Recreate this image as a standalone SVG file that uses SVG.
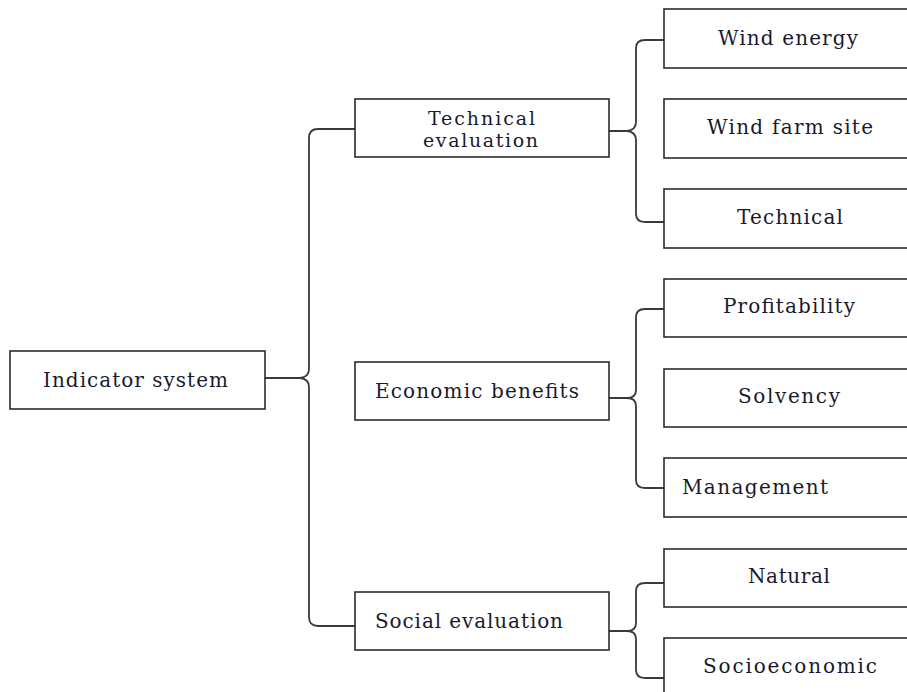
<svg xmlns="http://www.w3.org/2000/svg" width="907" height="692" viewBox="0 0 907 692">
<style>
rect{fill:#fff;stroke:#2b2b2b;stroke-width:1.6}
text{font-family:"DejaVu Serif",serif;font-size:20px;fill:#1a1a2e}
text.sm{font-size:19px}
.c path{fill:none;stroke:#3a3a3a;stroke-width:1.8}
</style>
<rect x="0" y="0" width="907" height="692" style="fill:#fff;stroke:none"/>
<g class="c" id="connectors">
<path d="M355 129 H318 Q309 129 309 138 V369 Q309 377 300 378 H265 M265 378 H300 Q309 379 309 387 V617 Q309 626 318 626 H355"/>
<path d="M664 40 H645 Q636 40 636 48 V122 Q636 130 627 131 H609 M609 131 H627 Q636 132 636 140 V214 Q636 222 645 222 H664"/>
<path d="M664 309 H645 Q636 309 636 317 V390 Q636 398 627 398 H609 M609 398 H627 Q636 398 636 406 V480 Q636 488 645 488 H664"/>
<path d="M664 583 H645 Q636 583 636 591 V623 Q636 631 627 631 H609 M609 631 H627 Q636 631 636 639 V670 Q636 678 645 678 H664"/>
</g>
<g id="n-indicator"><rect x="10" y="351" width="255" height="58"/><text x="43" y="387" textLength="185" lengthAdjust="spacing">Indicator system</text></g>
<g id="n-technical-eval"><rect x="355" y="99" width="254" height="58"/><text class="sm" x="428" y="125" textLength="107" lengthAdjust="spacing">Technical</text><text class="sm" x="423" y="147" textLength="115" lengthAdjust="spacing">evaluation</text></g>
<g id="n-economic"><rect x="355" y="362" width="254" height="58"/><text x="375" y="398" textLength="204" lengthAdjust="spacing">Economic benefits</text></g>
<g id="n-social"><rect x="355" y="592" width="254" height="58"/><text x="375" y="628" textLength="188" lengthAdjust="spacing">Social evaluation</text></g>
<g id="n-wind-energy"><rect x="664" y="9" width="260" height="59"/><text x="718" y="45" textLength="140" lengthAdjust="spacing">Wind energy</text></g>
<g id="n-wind-farm"><rect x="664" y="99" width="260" height="59"/><text x="707" y="134" textLength="166" lengthAdjust="spacing">Wind farm site</text></g>
<g id="n-technical"><rect x="664" y="189" width="260" height="59"/><text x="737" y="224" textLength="106" lengthAdjust="spacing">Technical</text></g>
<g id="n-profitability"><rect x="664" y="279" width="260" height="58"/><text x="723" y="313" textLength="132" lengthAdjust="spacing">Profitability</text></g>
<g id="n-solvency"><rect x="664" y="369" width="260" height="58"/><text x="738" y="403" textLength="102" lengthAdjust="spacing">Solvency</text></g>
<g id="n-management"><rect x="664" y="458" width="260" height="59"/><text x="682" y="494" textLength="146" lengthAdjust="spacing">Management</text></g>
<g id="n-natural"><rect x="664" y="549" width="260" height="58"/><text x="748" y="583" textLength="82" lengthAdjust="spacing">Natural</text></g>
<g id="n-socioeconomic"><rect x="664" y="638" width="260" height="70"/><text x="703" y="673" textLength="174" lengthAdjust="spacing">Socioeconomic</text></g>
</svg>
